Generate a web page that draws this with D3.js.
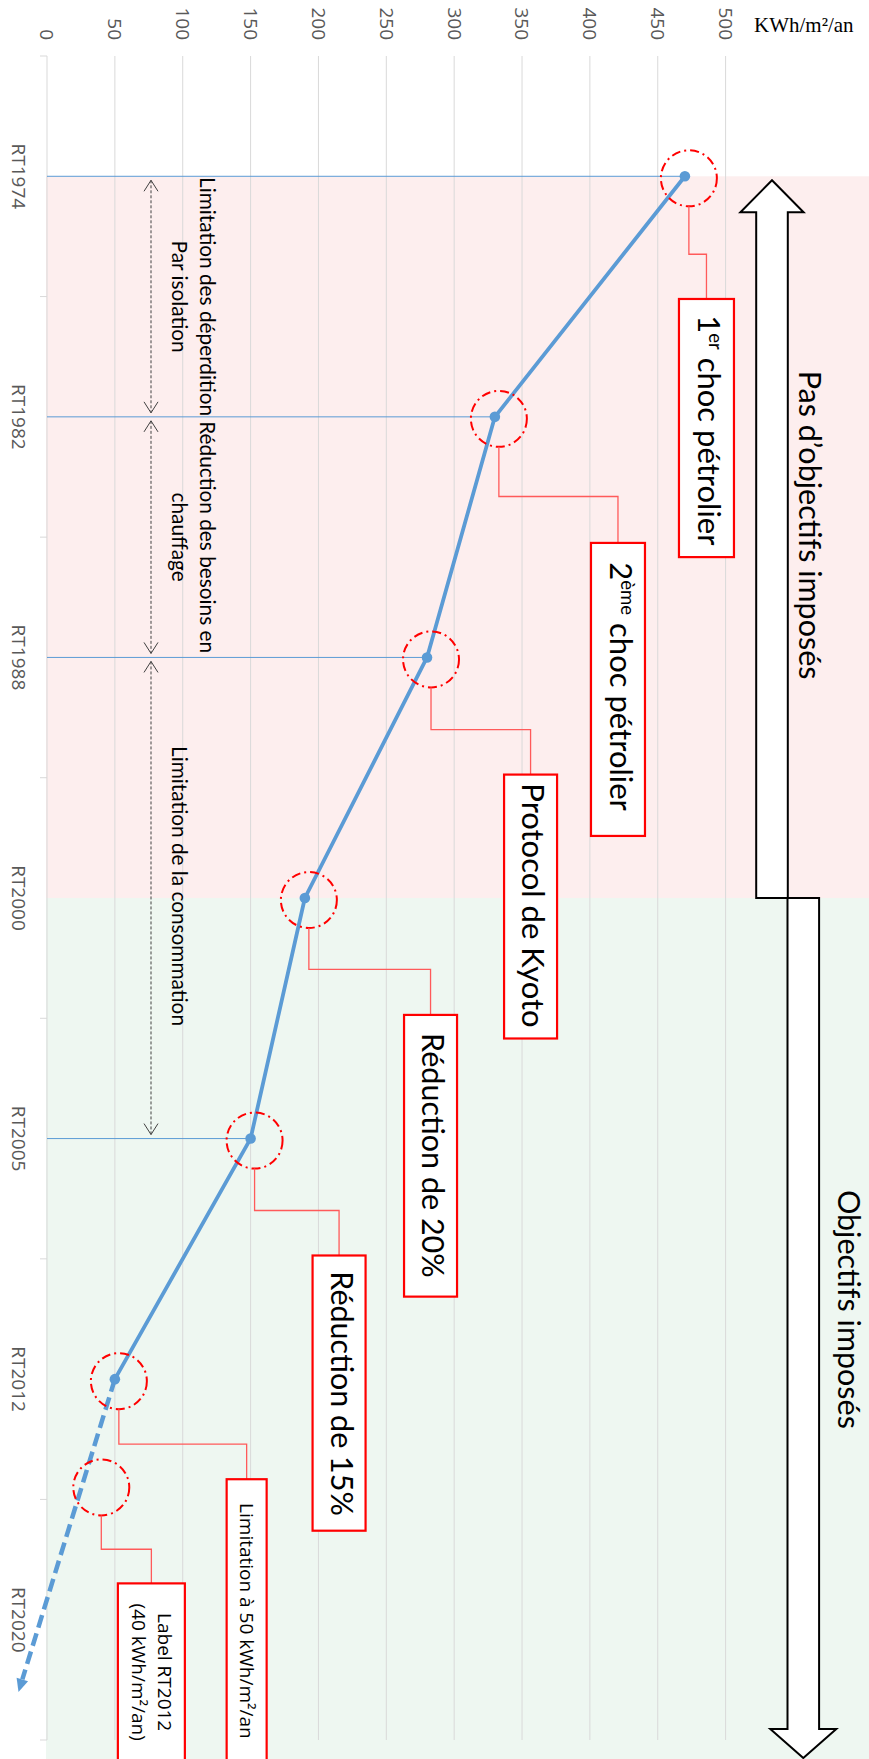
<!DOCTYPE html>
<html>
<head>
<meta charset="utf-8">
<script src="https://cdn.jsdelivr.net/npm/d3@7"></script>
<style>
  html, body { margin: 0; padding: 0; background: #ffffff; }
  svg { display: block; }
</style>
</head>
<body>
<svg id="chart" width="869" height="1759"></svg>
<script>
// ---- Data -----------------------------------------------------------------
const categories = ["RT1974", "RT1982", "RT1988", "RT2000", "RT2005", "RT2012", "RT2020"];
const consumption = [470, 330, 280, 190, 150, 50];          // kWh/m²/an per regulation
const valueTicks = [0, 50, 100, 150, 200, 250, 300, 350, 400, 450, 500];
const unitLabel = "KWh/m²/an";
const guideCategories = ["RT1974", "RT1982", "RT1988", "RT2005"];
const trendEnd = { pos: 6.3, value: -21 };                  // projected continuation after RT2012
const label2012 = { pos: 5.45, value: 40 };                 // Label RT2012 target
const phaseLabels = ["Pas d’objectifs imposés", "Objectifs imposés"];
const phaseBounds = ["RT1974", "RT2000"];

// Callout texts, split into [text, isSuperscript] runs
const calloutTexts = [
  [["1", 0], ["er", 1], [" choc pétrolier", 0]],
  [["2", 0], ["ème", 1], [" choc pétrolier", 0]],
  [["Protocol de Kyoto", 0]],
  [["Réduction de 20%", 0]],
  [["Réduction de 15%", 0]],
  [["Limitation à 50 kWh/m²/an", 0]],
  [["Label RT2012", 0]],
];
const calloutSecondLines = [null, null, null, null, null, null, "(40 kWh/m²/an)"];

// Spans between regulations with their descriptions
const spanFrom = ["RT1974", "RT1982", "RT1988"];
const spanTo = ["RT1982", "RT1988", "RT2005"];
const spanLines = [
  ["Limitation des déperdition", "Par isolation"],
  ["Réduction des besoins en", "chauffage"],
  ["", "Limitation de la consommation"],
];

// ---- Layout ---------------------------------------------------------------
const W = 869, H = 1759;
const plotTop = 56, plotBottom = 1740;
const svg = d3.select("#chart");

const x = d3.scaleLinear().domain([0, 500]).range([47, 725.6]);
const yBand = d3.scaleBand().domain(categories).range([plotTop, plotBottom]);
const yPos = d3.scaleLinear().domain([-0.5, categories.length - 0.5]).range([plotTop, plotBottom]);
const yc = c => yBand(c) + yBand.bandwidth() / 2;

const tickFont = "'Open Sans', 'Noto Sans', sans-serif";
const mainFont = "Lato, 'Open Sans', sans-serif";
const blue = "#5b9bd5";
const red = "#ff0000";

// ---- Background phases ----------------------------------------------------
svg.append("rect")
  .attr("x", x(0) - 1).attr("y", yc(phaseBounds[0]))
  .attr("width", W - x(0) + 1).attr("height", yc(phaseBounds[1]) - yc(phaseBounds[0]))
  .attr("fill", "#fdeeee");
svg.append("rect")
  .attr("x", x(0) - 1).attr("y", yc(phaseBounds[1]))
  .attr("width", W - x(0) + 1).attr("height", H - yc(phaseBounds[1]))
  .attr("fill", "#eef7f1");

// ---- Grid -----------------------------------------------------------------
svg.append("g").selectAll("line").data(valueTicks).join("line")
  .attr("x1", d => x(d)).attr("x2", d => x(d))
  .attr("y1", plotTop).attr("y2", plotBottom)
  .attr("stroke", "#d9d9d9").attr("stroke-width", 1);

// Category axis ticks (between bands)
const bounds = categories.map(c => yBand(c)).concat([plotBottom]);
svg.append("g").selectAll("line").data(bounds).join("line")
  .attr("x1", x(0) - 7).attr("x2", x(0))
  .attr("y1", d => d).attr("y2", d => d)
  .attr("stroke", "#d9d9d9").attr("stroke-width", 1);

// Value labels (rotated, reading downward)
svg.append("g").selectAll("text").data(valueTicks).join("text")
  .attr("transform", d => `translate(${x(d)},40) rotate(90)`)
  .attr("text-anchor", "end").attr("dy", "0.35em")
  .attr("font-family", tickFont).attr("font-size", 19).attr("fill", "#595959")
  .text(d => d);

svg.append("text")
  .attr("x", 754).attr("y", 32)
  .attr("font-family", "'Liberation Serif', 'Times New Roman', serif")
  .attr("font-size", 21).attr("fill", "#000")
  .text(unitLabel);

// Category labels
svg.append("g").selectAll("text").data(categories).join("text")
  .attr("transform", d => `translate(19,${yc(d)}) rotate(90)`)
  .attr("text-anchor", "middle").attr("dy", "0.35em")
  .attr("font-family", tickFont).attr("font-size", 19).attr("fill", "#595959")
  .text(d => d);

// ---- Guides from axis to points -------------------------------------------
svg.append("g").selectAll("line").data(guideCategories).join("line")
  .attr("x1", x(0)).attr("x2", d => x(consumption[categories.indexOf(d)]))
  .attr("y1", d => yc(d)).attr("y2", d => yc(d))
  .attr("stroke", blue).attr("stroke-width", 1);

// ---- Spans between regulations (dotted double arrows) ----------------------
const spanX = x(0) + 104;
const spanG = svg.append("g");
spanFrom.forEach((from, i) => {
  const y1 = yc(from) + 4, y2 = yc(spanTo[i]) - 4;
  spanG.append("line")
    .attr("x1", spanX).attr("x2", spanX).attr("y1", y1).attr("y2", y2)
    .attr("stroke", "#404040").attr("stroke-width", 1).attr("stroke-dasharray", "3,2");
  spanG.append("path")
    .attr("d", `M${spanX - 7},${y1 + 11} L${spanX},${y1} L${spanX + 7},${y1 + 11}`)
    .attr("fill", "none").attr("stroke", "#404040").attr("stroke-width", 1);
  spanG.append("path")
    .attr("d", `M${spanX - 7},${y2 - 11} L${spanX},${y2} L${spanX + 7},${y2 - 11}`)
    .attr("fill", "none").attr("stroke", "#404040").attr("stroke-width", 1);
  const mid = i === 2 ? yPos(2.95) : (yc(from) + yc(spanTo[i])) / 2;
  const baselines = [x(0) + 153, x(0) + 125];
  spanLines[i].forEach((t, k) => {
    if (!t) return;
    spanG.append("text")
      .attr("transform", `translate(${baselines[k]},${mid}) rotate(90)`)
      .attr("text-anchor", "middle")
      .attr("font-family", mainFont).attr("font-size", 20.8).attr("fill", "#000")
      .text(t);
  });
});

// ---- Series line ----------------------------------------------------------
const pts = consumption.map((v, i) => ({ c: categories[i], v }));
const line = d3.line().x(d => x(d.v)).y(d => yc(d.c));
svg.append("path").datum(pts)
  .attr("d", line)
  .attr("fill", "none").attr("stroke", blue).attr("stroke-width", 3.8)
  .attr("stroke-linejoin", "round");

// Projected trend (dashed, with arrow head)
const last = pts[pts.length - 1];
const tx0 = x(last.v), ty0 = yc(last.c);
const tx1 = x(trendEnd.value), ty1 = yPos(trendEnd.pos);
const ang = Math.atan2(ty1 - ty0, tx1 - tx0);
const headLen = 13, headHalf = 6;
const bx = tx1 - headLen * Math.cos(ang), by = ty1 - headLen * Math.sin(ang);
svg.append("line")
  .attr("x1", tx0).attr("y1", ty0).attr("x2", bx).attr("y2", by)
  .attr("stroke", blue).attr("stroke-width", 4.5).attr("stroke-dasharray", "13,6");
svg.append("path")
  .attr("d", `M${tx1},${ty1} L${bx - headHalf * Math.sin(ang)},${by + headHalf * Math.cos(ang)} L${bx + headHalf * Math.sin(ang)},${by - headHalf * Math.cos(ang)} Z`)
  .attr("fill", blue);

svg.append("g").selectAll("circle").data(pts).join("circle")
  .attr("cx", d => x(d.v)).attr("cy", d => yc(d.c)).attr("r", 5.3)
  .attr("fill", blue);

// ---- Callouts -------------------------------------------------------------
// ring around the anchor, elbow connector, boxed rotated label
const ringOffset = { dx: 4, dy: 2 };
const calloutLayout = [
  { elbow: 0.324, boxV: 485.9, boxW: 55, top: 0.510, bottom: 1.583, textPos: 1.056, size: 31 },
  { elbow: 1.331, boxV: 420.7, boxW: 54, top: 1.524, bottom: 2.742, textPos: 2.121, size: 31 },
  { elbow: 2.300, boxV: 356.3, boxW: 53, top: 2.487, bottom: 3.584, textPos: 3.031, size: 31 },
  { elbow: 3.297, boxV: 282.6, boxW: 53, top: 3.486, bottom: 4.657, textPos: 4.070, size: 30.5 },
  { elbow: 4.299, boxV: 215.2, boxW: 53, top: 4.486, bottom: 5.630, textPos: 5.060, size: 30.5 },
  { elbow: 5.270, boxV: 147.1, boxW: 40, top: 5.416, bottom: 6.90, textPos: 6.005, size: 19 },
  { elbow: 5.707, boxV: 76.9, boxW: 67, top: 5.849, bottom: 6.90, textPos: 6.218, size: 19 },
];
const anchors = pts.map(d => ({ cx: x(d.v) + ringOffset.dx, cy: yc(d.c) + ringOffset.dy }))
  .concat([{ cx: x(label2012.value), cy: yPos(label2012.pos) }]);
const ringR = 28;

const calloutG = svg.append("g");
calloutLayout.forEach((L, i) => {
  const a = anchors[i];
  const bx = x(L.boxV);
  const yEl = yPos(L.elbow), yTop = yPos(L.top), yBot = yPos(L.bottom);
  calloutG.append("circle")
    .attr("cx", a.cx).attr("cy", a.cy).attr("r", ringR)
    .attr("fill", "none").attr("stroke", red).attr("stroke-width", 2)
    .attr("stroke-dasharray", "9,4,2,4");
  calloutG.append("path")
    .attr("d", `M${a.cx},${a.cy + ringR} V${yEl} H${bx} V${yTop}`)
    .attr("fill", "none").attr("stroke", "#ff5a5a").attr("stroke-width", 1.3);
  calloutG.append("rect")
    .attr("x", bx - L.boxW / 2).attr("y", yTop)
    .attr("width", L.boxW).attr("height", yBot - yTop)
    .attr("fill", "#ffffff").attr("stroke", red).attr("stroke-width", 2.2);

  const big = L.size > 20;
  const font = big ? mainFont : tickFont;
  const lines = calloutSecondLines[i] ? [calloutTexts[i], [[calloutSecondLines[i], 0]]] : [calloutTexts[i]];
  const gap = 26;
  lines.forEach((runs, k) => {
    const off = lines.length === 1 ? 0 : (k === 0 ? gap / 2 : -gap / 2);
    const t = calloutG.append("text")
      .attr("transform", `translate(${bx + off},${yPos(L.textPos)}) rotate(90)`)
      .attr("text-anchor", "middle").attr("dy", big ? "0.27em" : "0.35em")
      .attr("font-family", font).attr("font-size", L.size).attr("fill", "#000");
    runs.forEach(([s, sup]) => {
      t.append("tspan")
        .attr("font-size", sup ? L.size * 0.6 : L.size)
        .attr("baseline-shift", sup ? "super" : null)
        .text(s);
    });
  });
});

// ---- Phase arrows ---------------------------------------------------------
const yMid = yc(phaseBounds[1]);
const yStart = yc(phaseBounds[0]);
const upC = 772, dnC = 803.3, shaft = 15.8;
svg.append("path")
  .attr("d", `M${upC},${yStart + 4} L${upC + 31.6},${yStart + 36} L${upC + shaft},${yStart + 36} L${upC + shaft},${yMid} L${upC - shaft},${yMid} L${upC - shaft},${yStart + 36} L${upC - 31.6},${yStart + 36} Z`)
  .attr("fill", "#fff").attr("stroke", "#000").attr("stroke-width", 2).attr("stroke-linejoin", "miter");
svg.append("path")
  .attr("d", `M${dnC - shaft},${yMid} L${dnC + shaft},${yMid} L${dnC + shaft},${H - 30} L${dnC + 33},${H - 30} L${dnC},${H - 1} L${dnC - 33},${H - 30} L${dnC - shaft},${H - 30} Z`)
  .attr("fill", "#fff").attr("stroke", "#000").attr("stroke-width", 2).attr("stroke-linejoin", "miter");

svg.append("text")
  .attr("transform", `translate(799,${yPos(1.45)}) rotate(90)`)
  .attr("text-anchor", "middle")
  .attr("font-family", mainFont).attr("font-size", 30.5).attr("fill", "#000")
  .text(phaseLabels[0]);
svg.append("text")
  .attr("transform", `translate(838,${yPos(4.71)}) rotate(90)`)
  .attr("text-anchor", "middle")
  .attr("font-family", mainFont).attr("font-size", 30.5).attr("fill", "#000")
  .text(phaseLabels[1]);
</script>
</body>
</html>
